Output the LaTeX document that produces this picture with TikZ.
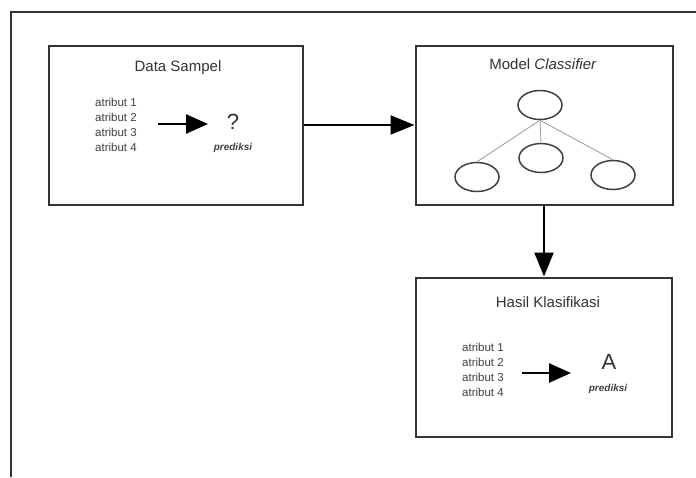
\documentclass[tikz,border=0pt]{standalone}
\usepackage{fontspec}
\setmainfont{Liberation Sans}
\usetikzlibrary{arrows.meta,shapes.geometric}
\begin{document}
\begin{tikzpicture}[x=1pt,y=-1pt,
  box/.style={draw=black!80,line width=2pt,minimum width=#1,minimum height=159pt,inner sep=0pt},
  ttl/.style={font=\fontsize{15}{17}\selectfont,text=black!80,inner sep=0pt},
  attr/.style={font=\fontsize{11.5}{15}\selectfont,text=black!75,align=left,inner sep=0pt},
  pred/.style={font=\fontsize{10}{12}\selectfont\bfseries\itshape,text=black!75,inner sep=0pt},
  big/.style={font=\fontsize{22}{24}\selectfont,text=black!80,inner sep=0pt},
  bigarrow/.style={line width=2.6pt,-{Triangle[length=22pt,width=19pt]}},
  linkarrow/.style={line width=2.2pt,-{Triangle[length=24pt,width=19pt]}},
  ell/.style={ellipse,draw=black!75,line width=1.5pt,minimum width=44pt,minimum height=29pt,inner sep=0pt},
  tree/.style={draw=black!40,line width=0.8pt}]
\useasboundingbox (0,0) rectangle (696,477);
\fill[white] (0,0) rectangle (696,477);
% outer frame
\draw[black!80,line width=2pt] (11,477) -- (11,12) -- (696,12);
% boxes
\node[box=254pt] (data) at (176,125) {};
\node[box=257pt] (model) at (544,125) {};
\node[box=256pt] (hasil) at (544,357) {};
% Data Sampel
\node[ttl] (t1) at (178,68) {Data Sampel};
\node[attr] (a1) at (116,125) {atribut 1\\atribut 2\\atribut 3\\atribut 4};
\node[big] (q) at (233,122) {?};
\node[pred] (p1) at (233,148) {prediksi};
\coordinate (s1) at (158,124);
\coordinate (e1) at (208,124);
\draw[bigarrow] (s1) -- (e1);
% Model Classifier
\node[ttl] (t2) at (543,64) {Model \textit{Classifier}};
\node[ell] (r) at (540,105) {};
\node[ell] (m) at (541,158) {};
\node[ell] (l) at (477,177) {};
\node[ell] (rr) at (613,175) {};
\draw[tree] (r.south) -- (l.north);
\draw[tree] (r.south) -- (m.north);
\draw[tree] (r.south) -- (rr.north);
% Hasil Klasifikasi
\node[ttl] (t3) at (548,302) {Hasil Klasifikasi};
\node[attr] (a2) at (483,370) {atribut 1\\atribut 2\\atribut 3\\atribut 4};
\node[big] (A) at (609,362) {A};
\node[pred] (p2) at (608,389) {prediksi};
\coordinate (s2) at (522,373);
\coordinate (e2) at (571,373);
\draw[bigarrow] (s2) -- (e2);
% connectors between boxes
\draw[linkarrow] (data.east) -- (model.west);
\draw[linkarrow] (model.south) -- (hasil.north);
\end{tikzpicture}
\end{document}
